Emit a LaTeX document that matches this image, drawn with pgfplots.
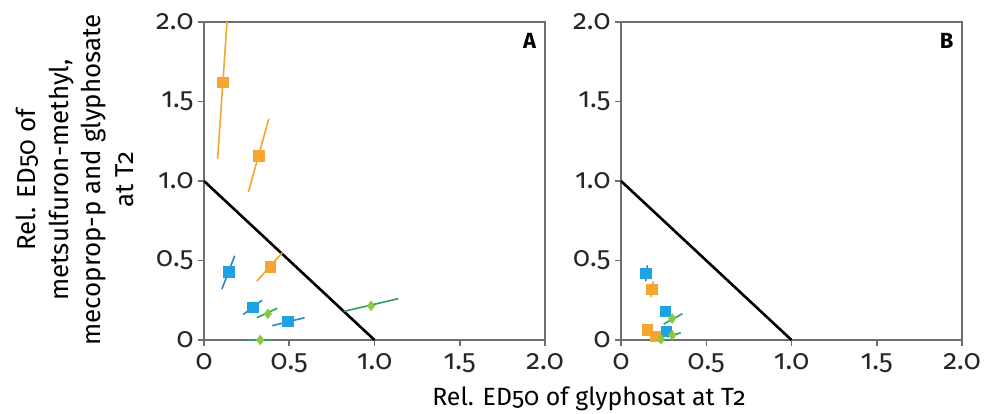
\documentclass[border=0pt]{standalone}
\usepackage{fontspec}
\setmainfont{Fira Sans}[Numbers=OldStyle]
\usepackage{pgfplots}
\pgfplotsset{compat=1.18}
\definecolor{myorange}{HTML}{F7A531}
\definecolor{myblue}{HTML}{1FA3E0}
\definecolor{myblueline}{HTML}{2F86C8}
\definecolor{mygreen}{HTML}{8DC63F}
\definecolor{mygreenline}{HTML}{2E9E62}
\definecolor{axgray}{HTML}{6E6E6E}
\pgfplotsset{
  panel/.style={
    scale only axis, width=341bp, height=318bp,
    xmin=0, xmax=2, ymin=0, ymax=2,
    axis line style={axgray, line width=1.8bp},
    xtick={0,0.5,1,1.5,2}, xticklabels={0,0.5,1.0,1.5,2.0},
    ytick={0,0.5,1,1.5,2}, yticklabels={0,0.5,1.0,1.5,2.0},
    tick align=outside, major tick length=6bp,
    tick style={axgray, line width=1.5bp},
    xtick pos=bottom, ytick pos=left,
    tick label style={font=\fontsize{28}{28}\selectfont, text=black!85},
    xticklabel style={yshift=-4bp},
    yticklabel style={xshift=-1bp},
    clip=false,
  },
  ci/.style={line width=1.6bp},
  orci/.style={ci, myorange},
  blci/.style={ci, myblueline},
  grci/.style={ci, mygreenline},
  orm/.style={only marks, mark=square*, mark size=5.2bp, mark options={fill=myorange, draw=myorange}},
  blm/.style={only marks, mark=square*, mark size=5.2bp, mark options={fill=myblue, draw=myblue}},
  grm/.style={only marks, mark=diamond*, mark size=5bp, mark options={fill=mygreen, draw=mygreen}},
}
\begin{document}
\begin{tikzpicture}
\path[use as bounding box] (-204bp,-74bp) rectangle (787bp,340bp);
% Panel A
\begin{axis}[panel, at={(0,0)}, anchor=south west]
\addplot[black, line width=2.6bp] coordinates {(0,1) (1,0)};
% orange CIs
\addplot[orci] coordinates {(0.08,1.14) (0.135,2.0)};
\addplot[orci] coordinates {(0.26,0.93) (0.38,1.39)};
\addplot[orci] coordinates {(0.31,0.37) (0.46,0.55)};
% blue CIs
\addplot[blci] coordinates {(0.105,0.32) (0.18,0.53)};
\addplot[blci] coordinates {(0.23,0.16) (0.34,0.25)};
\addplot[blci] coordinates {(0.40,0.09) (0.59,0.14)};
% green CIs
\addplot[grci] coordinates {(0.31,0.14) (0.43,0.20)};
\addplot[grci] coordinates {(0.26,0.0) (0.41,0.0)};
\addplot[grci] coordinates {(0.82,0.18) (1.14,0.26)};
\addplot[orm] coordinates {(0.11,1.62) (0.32,1.16) (0.39,0.46)};
\addplot[blm] coordinates {(0.145,0.43) (0.285,0.205) (0.49,0.12)};
\addplot[grm] coordinates {(0.375,0.165) (0.33,0.0) (0.98,0.215)};
\node[font=\fontsize{22}{22}\selectfont\bfseries] at (rel axis cs:0.955,0.94) {A};
\end{axis}
% Panel B
\begin{axis}[panel, at={(417bp,0)}, anchor=south west]
\addplot[black, line width=2.6bp] coordinates {(0,1) (1,0)};
\addplot[blci] coordinates {(0.145,0.37) (0.155,0.47)};
\addplot[orci] coordinates {(0.175,0.27) (0.19,0.37)};
\addplot[grci] coordinates {(0.25,0.10) (0.36,0.165)};
\addplot[grci] coordinates {(0.27,0.02) (0.35,0.045)};
\addplot[orm] coordinates {(0.18,0.32) (0.155,0.065) (0.2,0.025)};
\addplot[blm] coordinates {(0.145,0.42) (0.26,0.18) (0.265,0.055)};
\addplot[grm] coordinates {(0.30,0.135) (0.30,0.03) (0.235,0.005)};
\node[font=\fontsize{22}{22}\selectfont\bfseries] at (rel axis cs:0.955,0.94) {B};
\end{axis}
\node[rotate=90, align=center, font=\fontsize{26}{33}\selectfont] at (-129bp,160bp)
  {Rel. ED50 of\\metsulfuron-methyl,\\mecoprop-p and glyphosate\\at T2};
\node[font=\fontsize{25}{25}\selectfont] at (385bp,-59bp) {Rel. ED50 of glyphosat at T2};
\end{tikzpicture}
\end{document}
